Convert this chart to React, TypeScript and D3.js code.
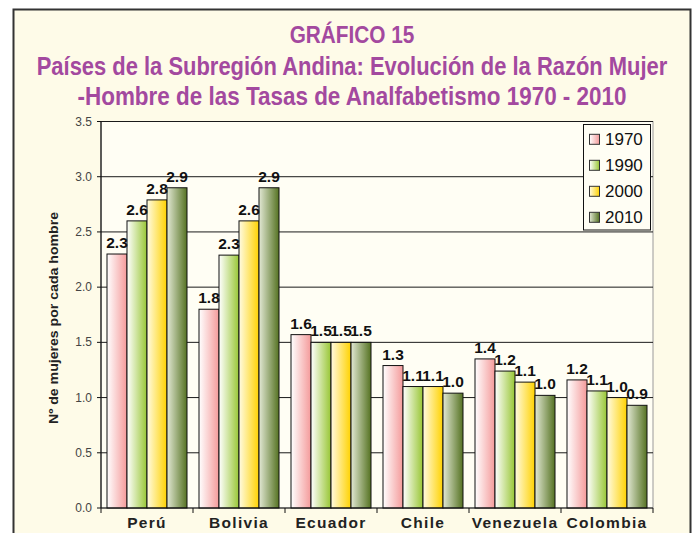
import React from "react";
import * as d3 from "d3";

const categories = ["Perú", "Bolivia", "Ecuador", "Chile", "Venezuela", "Colombia"];
const seriesNames = ["1970", "1990", "2000", "2010"];
const v1970 = [2.3, 1.8, 1.57, 1.29, 1.35, 1.16];
const v1990 = [2.6, 2.29, 1.5, 1.1, 1.24, 1.06];
const v2000 = [2.79, 2.6, 1.5, 1.1, 1.14, 1.0];
const v2010 = [2.9, 2.9, 1.5, 1.04, 1.02, 0.93];
const yTicks = [0, 0.5, 1.0, 1.5, 2.0, 2.5, 3.0, 3.5];
const titleLines = [
  "GRÁFICO 15",
  "Países de la Subregión Andina: Evolución de la Razón Mujer",
  "-Hombre de las Tasas de Analfabetismo 1970 - 2010",
];
const yTitle = "Nº de mujeres por cada hombre";

const seriesValues = [v1970, v1990, v2000, v2010];
const gradients = [
  ["#ffffff", "#f49a9a"],
  ["#ffffff", "#98c634"],
  ["#fffbe2", "#ffd200"],
  ["#e2e8d4", "#557222"],
];

const W = 694;
const H = 533;
const plot = { left: 101, right: 653, top: 121.5, bottom: 508 };
const titleColor = "#a3499f";
const font = "'Liberation Sans', Arial, sans-serif";

export default function App() {
  const x0 = d3.scaleBand<string>().domain(categories).range([plot.left, plot.right]).paddingInner(0).paddingOuter(0);
  const x1 = d3.scaleBand<string>().domain(seriesNames).range([0, x0.bandwidth()]).paddingInner(0).paddingOuter(0.3);
  const y = d3.scaleLinear().domain([0, 3.5]).range([plot.bottom, plot.top]);

  const titleSpecs = [
    { y: 42.7, len: 124.7, size: 20, sy: 1.22 },
    { y: 74.5, len: 630.6, size: 21, sy: 1.24 },
    { y: 105, len: 549, size: 21, sy: 1.24 },
  ];

  return (
    <svg width={W} height={H} style={{ position: "absolute", left: 0, top: 0 }} fontFamily={font}>
      <defs>
        {gradients.map((g, i) => (
          <linearGradient key={i} id={`grad${i}`} x1="0" x2="1" y1="0" y2="0">
            <stop offset="0" stopColor={g[0]} />
            <stop offset="1" stopColor={g[1]} />
          </linearGradient>
        ))}
      </defs>
      <rect x={0} y={0} width={W} height={H} fill="#ffffff" />
      <rect x={13.5} y={9.5} width={677} height={540} fill="#fefbe8" stroke="#333" strokeWidth={2} />

      {titleLines.map((t, i) => (
        <text
          key={i}
          transform={`translate(352, ${titleSpecs[i].y}) scale(1, ${titleSpecs[i].sy})`}
          x={0}
          y={0}
          textAnchor="middle"
          fontSize={titleSpecs[i].size}
          fontWeight="bold"
          fill={titleColor}
          textLength={titleSpecs[i].len}
          lengthAdjust="spacingAndGlyphs"
        >
          {t}
        </text>
      ))}

      {/* plot area */}
      <rect x={plot.left} y={plot.top} width={plot.right - plot.left} height={plot.bottom - plot.top} fill="#fffef4" stroke="#9a9a9a" strokeWidth={1} />

      {/* gridlines */}
      {yTicks.filter((t) => t > 0).map((t) => (
        <line key={t} x1={plot.left} x2={plot.right} y1={y(t)} y2={y(t)} stroke="#1a1a1a" strokeWidth={1} />
      ))}

      {/* bars */}
      {categories.map((c, ci) => (
        <g key={c}>
          {seriesNames.map((s, si) => {
            const v = seriesValues[si][ci];
            const bx = (x0(c) as number) + (x1(s) as number);
            return (
              <rect
                key={s}
                x={bx}
                y={y(v)}
                width={x1.bandwidth()}
                height={plot.bottom - y(v)}
                fill={`url(#grad${si})`}
                stroke="#111"
                strokeWidth={1}
              />
            );
          })}
        </g>
      ))}

      {/* data labels */}
      {categories.map((c, ci) => (
        <g key={c}>
          {seriesNames.map((s, si) => {
            const v = seriesValues[si][ci];
            const bx = (x0(c) as number) + (x1(s) as number) + x1.bandwidth() / 2;
            return (
              <text key={s} x={bx} y={y(v) - 6} textAnchor="middle" fontSize={15.5} fontWeight="bold" fill="#111">
                {d3.format(".1f")(v)}
              </text>
            );
          })}
        </g>
      ))}

      {/* y axis */}
      <line x1={plot.left} x2={plot.left} y1={plot.top} y2={plot.bottom} stroke="#111" strokeWidth={1.2} />
      {yTicks.map((t) => (
        <g key={t}>
          <line x1={plot.left - 4} x2={plot.left} y1={y(t)} y2={y(t)} stroke="#111" />
          <text x={plot.left - 9} y={y(t) + 4} textAnchor="end" fontSize={12} fill="#444">
            {d3.format(".1f")(t)}
          </text>
        </g>
      ))}

      {/* x axis */}
      <line x1={plot.left} x2={plot.right} y1={plot.bottom} y2={plot.bottom} stroke="#111" strokeWidth={1.2} />
      {categories.map((c) => (
        <line key={c} x1={x0(c) as number} x2={x0(c) as number} y1={plot.bottom} y2={plot.bottom + 5} stroke="#111" />
      ))}
      <line x1={plot.right} x2={plot.right} y1={plot.bottom} y2={plot.bottom + 5} stroke="#111" />
      {categories.map((c) => (
        <text
          key={c}
          x={(x0(c) as number) + x0.bandwidth() / 2}
          y={528}
          textAnchor="middle"
          fontSize={15.5}
          fontWeight="bold"
          fill="#222"
          letterSpacing={1.3}
        >
          {c}
        </text>
      ))}

      {/* y title */}
      <text
        transform={`translate(58, 318) rotate(-90)`}
        textAnchor="middle"
        fontSize={13}
        fontWeight="bold"
        fill="#222"
        textLength={212}
        lengthAdjust="spacingAndGlyphs"
      >
        {yTitle}
      </text>

      {/* legend */}
      <rect x={583.5} y={124.5} width={67} height={105.5} fill="#fffef4" stroke="#111" strokeWidth={1} />
      {seriesNames.map((s, i) => {
        const cy = 139.3 + i * 26;
        return (
          <g key={s}>
            <rect x={589.5} y={cy - 5} width={10} height={10} fill={`url(#grad${i})`} stroke="#333" strokeWidth={1} />
            <text x={605} y={cy + 6} fontSize={17} fill="#111">
              {s}
            </text>
          </g>
        );
      })}
    </svg>
  );
}
